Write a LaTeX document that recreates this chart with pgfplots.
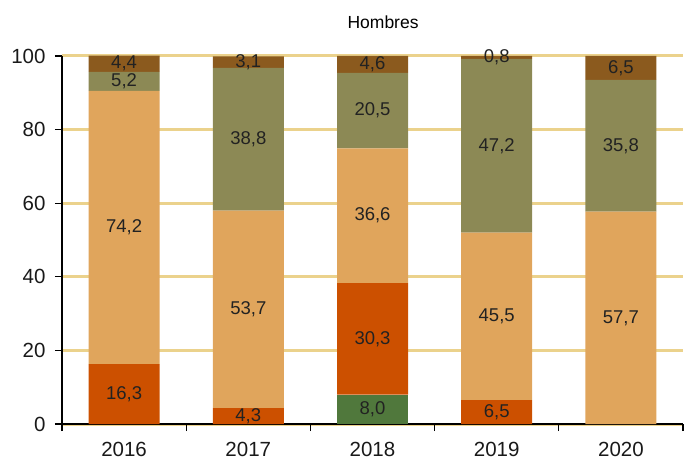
\documentclass[border=0pt]{standalone}
\usepackage{pgfplots}
\pgfplotsset{compat=1.18}
\usepackage{fontspec}
\setmainfont{Liberation Sans}
\definecolor{cgreen}{HTML}{50783C}
\definecolor{cred}{HTML}{CC5000}
\definecolor{corange}{HTML}{E0A55C}
\definecolor{colive}{HTML}{8C8955}
\definecolor{cbrown}{HTML}{8B5A1E}
\definecolor{cgrid}{HTML}{EBD28C}
\definecolor{clab}{HTML}{222222}
\pgfplotstableread[row sep=\\]{
x green red orange olive brown \\
0 0 16.3 74.2 5.2 4.4 \\
1 0 4.3 53.7 38.8 3.1 \\
2 8.0 30.3 36.6 20.5 4.6 \\
3 0 6.5 45.5 47.2 0.8 \\
4 0 0 57.7 35.8 6.5 \\
}\datatable
\pgfplotstableread[row sep=\\]{
x y lab \\
0 8.15 16,3 \\
0 53.4 74,2 \\
0 93.1 5,2 \\
0 97.9 4,4 \\
1 2.15 4,3 \\
1 31.15 53,7 \\
1 77.4 38,8 \\
1 98.35 3,1 \\
2 4.0 8,0 \\
2 23.15 30,3 \\
2 56.6 36,6 \\
2 85.15 20,5 \\
2 97.7 4,6 \\
3 3.25 6,5 \\
3 29.25 45,5 \\
3 75.6 47,2 \\
3 99.6 0,8 \\
4 28.85 57,7 \\
4 75.6 35,8 \\
4 96.75 6,5 \\
}\labtable
\begin{document}
\begin{tikzpicture}
\path (-62pt,-35pt) rectangle (625pt,424pt);
\begin{axis}[
  scale only axis, width=621pt, height=368pt,
  xmin=-0.5, xmax=4.5, ymin=0, ymax=100,
  ybar stacked, bar width=71pt,
  axis x line*=bottom, axis y line*=left,
  axis line style={black, line width=1.2pt},
  xtick={0,1,2,3,4}, xticklabels={2016,2017,2018,2019,2020},
  major x tick style={draw=none},
  minor xtick={-0.5,0.5,1.5,2.5,3.5,4.5},
  minor x tick style={black, line width=1.2pt},
  minor tick length=7pt, major tick length=7pt,
  tick align=outside,
  ytick={0,20,40,60,80,100},
  y tick style={black, line width=1.2pt},
  ymajorgrids, grid style={color=cgrid, line width=3pt},
  /pgf/number format/assume math mode=true,
  tick label style={font=\fontsize{20.5}{24}\selectfont, text=black!90},
  x tick label style={yshift=-8pt},
  y tick label style={xshift=-6pt},
  title={Hombres},
  title style={at={(0.517,1)}, anchor=center, yshift=28pt, font=\fontsize{17.5}{20}\selectfont},
]
\addplot[fill=cgreen, draw=none] table[x=x, y=green] {\datatable};
\addplot[fill=cred, draw=none] table[x=x, y=red] {\datatable};
\addplot[fill=corange, draw=none] table[x=x, y=orange] {\datatable};
\addplot[fill=colive, draw=none] table[x=x, y=olive] {\datatable};
\addplot[fill=cbrown, draw=none] table[x=x, y=brown] {\datatable};
\end{axis}
\begin{axis}[
  scale only axis, width=621pt, height=368pt,
  xmin=-0.5, xmax=4.5, ymin=0, ymax=100,
  hide axis, clip=false,
]
\addplot[draw=none, nodes near coords, point meta=explicit symbolic,
  every node near coord/.style={anchor=center, inner sep=0pt, text=clab, font=\fontsize{18.5}{21}\selectfont}]
  table[x=x, y=y, meta=lab] {\labtable};
\end{axis}
\end{tikzpicture}
\end{document}
